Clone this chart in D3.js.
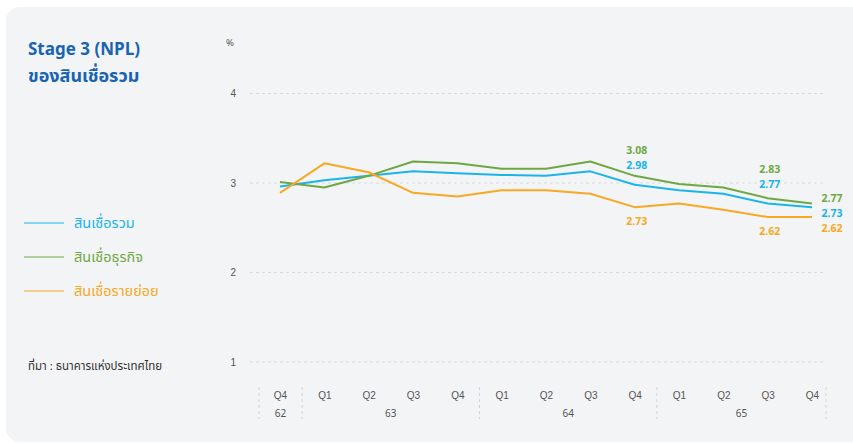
<!DOCTYPE html>
<html>
<head>
<meta charset="utf-8">
<script src="https://cdn.jsdelivr.net/npm/d3@7"></script>
<style>
  html, body { margin: 0; padding: 0; background: #ffffff; }
  svg { display: block; font-family: "Noto Sans Thai", "Noto Sans", "Open Sans", sans-serif; }
</style>
</head>
<body>
<svg id="chart" width="853" height="443"></svg>
<script>
// Quarter labels and Buddhist-era year groups
const quarters = ["Q4", "Q1", "Q2", "Q3", "Q4", "Q1", "Q2", "Q3", "Q4", "Q1", "Q2", "Q3", "Q4"];
const yearGroups = [
  { label: "62", from: 0, to: 0 },
  { label: "63", from: 1, to: 4 },
  { label: "64", from: 5, to: 8 },
  { label: "65", from: 9, to: 12 }
];
const yTicks = [1, 2, 3, 4];

// NPL ratio (%) by quarter
const totalLoans    = [2.96, 3.03, 3.08, 3.13, 3.11, 3.09, 3.08, 3.13, 2.98, 2.92, 2.88, 2.77, 2.73];
const businessLoans = [3.01, 2.95, 3.08, 3.24, 3.22, 3.16, 3.16, 3.24, 3.08, 2.99, 2.95, 2.83, 2.77];
const retailLoans   = [2.89, 3.22, 3.12, 2.89, 2.85, 2.92, 2.92, 2.88, 2.73, 2.77, 2.70, 2.62, 2.62];

// Indices of quarters whose values are printed
const labelledPoints = [8, 11, 12];

const series = [
  { name: "สินเชื่อรวม", values: totalLoans, color: "#1ab4ea" },
  { name: "สินเชื่อธุรกิจ", values: businessLoans, color: "#6fa843" },
  { name: "สินเชื่อรายย่อย", values: retailLoans, color: "#f8a823" }
];

const svg = d3.select("#chart");

// Card background
svg.append("rect")
  .attr("x", 6).attr("y", 7)
  .attr("width", 860).attr("height", 435)
  .attr("rx", 14).attr("ry", 14)
  .attr("fill", "#f3f4f6");

const x = d3.scalePoint()
  .domain(d3.range(quarters.length))
  .range([280, 812]);

const y = d3.scaleLinear()
  .domain([1, 4])
  .range([362, 93.5]);

// Horizontal gridlines
svg.append("g")
  .selectAll("line")
  .data(yTicks)
  .join("line")
  .attr("x1", 250).attr("x2", 826)
  .attr("y1", d => y(d)).attr("y2", d => y(d))
  .attr("stroke", "#d9dadd")
  .attr("stroke-width", 1)
  .attr("stroke-dasharray", "3,3");

// Y axis tick labels
const yAxis = svg.append("g")
  .attr("transform", "translate(236,0)")
  .call(d3.axisLeft(y).tickValues(yTicks).tickSize(0).tickFormat(d3.format("d")));
yAxis.select(".domain").remove();
yAxis.selectAll("text")
  .attr("x", 0)
  .attr("text-anchor", "end")
  .attr("fill", "#555")
  .style("font-size", "10px");

svg.append("text")
  .attr("x", 230).attr("y", 46)
  .attr("text-anchor", "middle")
  .attr("fill", "#555")
  .style("font-size", "9.5px")
  .text("%");

// X axis: quarter labels
const xAxis = svg.append("g")
  .attr("transform", "translate(0,389)")
  .call(d3.axisBottom(x).tickSize(0).tickFormat(i => quarters[i]));
xAxis.select(".domain").remove();
xAxis.selectAll("text")
  .attr("y", 3)
  .attr("fill", "#555")
  .style("font-size", "10px");

// Year group separators and labels
const boundaries = [x(0) - 21];
yearGroups.forEach((g, k) => {
  if (k < yearGroups.length - 1) boundaries.push((x(g.to) + x(yearGroups[k + 1].from)) / 2);
});
boundaries.push(x(quarters.length - 1) + 14);

svg.append("g")
  .selectAll("line")
  .data(boundaries)
  .join("line")
  .attr("x1", d => d).attr("x2", d => d)
  .attr("y1", 387).attr("y2", 419)
  .attr("stroke", "#d3d4d7")
  .attr("stroke-width", 1)
  .attr("stroke-dasharray", "3,3");

svg.append("g")
  .selectAll("text")
  .data(yearGroups)
  .join("text")
  .attr("x", (d, k) => (boundaries[k] + boundaries[k + 1]) / 2)
  .attr("y", 417)
  .attr("text-anchor", "middle")
  .attr("fill", "#555")
  .style("font-size", "10px")
  .text(d => d.label);

// Series lines
const line = d3.line()
  .x((d, i) => x(i))
  .y(d => y(d));

svg.append("g")
  .selectAll("path")
  .data(series)
  .join("path")
  .attr("d", d => line(d.values))
  .attr("fill", "none")
  .attr("stroke", d => d.color)
  .attr("stroke-width", 2)
  .attr("stroke-linejoin", "round");

// Value labels: business and total stacked above the lines, retail below;
// the final quarter's labels sit to the right of the line ends
const labelG = svg.append("g")
  .style("font-size", "10.5px")
  .style("font-weight", "700");

labelledPoints.forEach(i => {
  const last = i === quarters.length - 1;
  const cx = last ? x(i) + 20 : x(i) + 2;
  const totY = last ? y(totalLoans[i]) + 6 : y(totalLoans[i]) - 19;
  const bizY = totY - 15;
  const retY = last ? totY + 15 : y(retailLoans[i]) + 14.5;
  [[businessLoans, bizY, series[1].color],
   [totalLoans, totY, series[0].color],
   [retailLoans, retY, series[2].color]].forEach(([vals, ty, col]) => {
    labelG.append("text")
      .attr("x", cx)
      .attr("y", ty)
      .attr("dy", "0.35em")
      .attr("text-anchor", "middle")
      .attr("fill", col)
      .text(d3.format(".2f")(vals[i]));
  });
});

// Title
svg.append("text")
  .attr("x", 28).attr("y", 55)
  .attr("fill", "#1864b0")
  .style("font-size", "17px")
  .style("font-weight", "700")
  .text("Stage 3 (NPL)");
svg.append("text")
  .attr("x", 28).attr("y", 82)
  .attr("fill", "#1864b0")
  .style("font-size", "18px")
  .style("font-weight", "700")
  .text("ของสินเชื่อรวม");

// Legend
const legend = svg.append("g")
  .selectAll("g")
  .data(series)
  .join("g")
  .attr("transform", (d, k) => `translate(24,${223 + k * 34})`);
legend.append("line")
  .attr("x1", 0).attr("x2", 40)
  .attr("stroke", d => d.color)
  .attr("stroke-width", 1);
legend.append("text")
  .attr("x", 50).attr("y", 0)
  .attr("dy", "0.32em")
  .attr("fill", d => d.color)
  .style("font-size", "14.5px")
  .text(d => d.name);

// Source note
svg.append("text")
  .attr("x", 28).attr("y", 370)
  .attr("fill", "#333")
  .style("font-size", "11.5px")
  .text("ที่มา :  ธนาคารแห่งประเทศไทย");
</script>
</body>
</html>
